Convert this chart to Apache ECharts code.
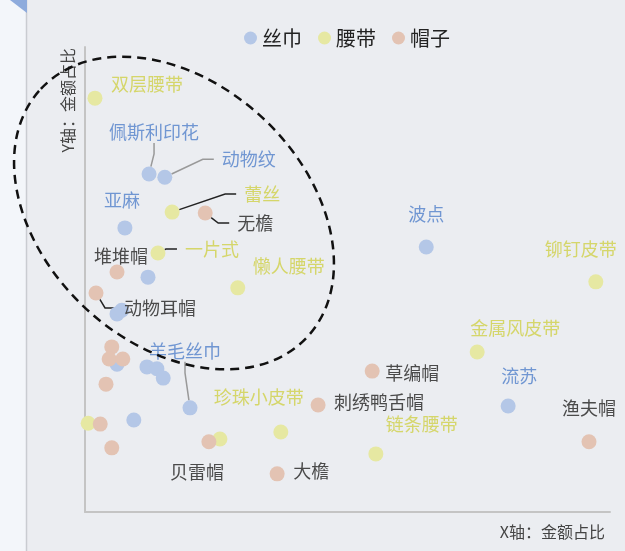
<!DOCTYPE html>
<html>
<head>
<meta charset="utf-8">
<script src="https://cdn.jsdelivr.net/npm/echarts@6/dist/echarts.min.js"></script>
<style>
  html, body { margin: 0; padding: 0; background: #ebedf1; }
  #chart { width: 625px; height: 551px; }
</style>
</head>
<body>
<div id="chart"></div>
<script>
// 丝巾
const scarfNames = ['佩斯利印花', '动物纹', '亚麻', '', '', '', '', '', '', '', '', '羊毛丝巾', '波点', '流苏'];
const scarfX = [12.2, 15.2, 7.6, 12.0, 6.1, 7.0, 6.1, 11.8, 13.7, 14.9, 9.3, 20.0, 65.0, 80.6];
const scarfY = [72.7, 72.0, 61.1, 50.5, 42.6, 43.4, 31.8, 31.2, 30.8, 28.8, 19.8, 22.4, 57.0, 22.8];

// 腰带
const beltNames = ['双层腰带', '蕾丝', '一片式', '懒人腰带', '金属风皮带', '铆钉皮带', '珍珠小皮带', '链条腰带', '', ''];
const beltX = [1.9, 16.6, 13.9, 29.1, 74.7, 97.3, 37.3, 55.4, 0.6, 25.7];
const beltY = [89.0, 64.5, 55.7, 48.2, 34.4, 49.5, 17.2, 12.5, 19.1, 15.7];

// 帽子
const hatNames = ['无檐', '堆堆帽', '动物耳帽', '草编帽', '刺绣鸭舌帽', '大檐', '渔夫帽', '贝雷帽', '', '', '', '', '', ''];
const hatX = [22.9, 6.1, 2.1, 54.7, 44.4, 36.6, 96.0, 23.6, 5.1, 4.6, 7.2, 4.0, 2.9, 5.1];
const hatY = [64.3, 51.6, 47.1, 30.3, 23.0, 8.2, 15.1, 15.1, 35.5, 32.9, 32.9, 27.5, 18.9, 13.8];

// label placement (shift of label centre from the point, px)
const labelOffsets = {
  '佩斯利印花': [5, -42], '动物纹': [84, -18], '亚麻': [-3, -28], '羊毛丝巾': [-5, -57],
  '波点': [0, -33], '流苏': [11, -30],
  '双层腰带': [52, -14], '蕾丝': [90, -18], '一片式': [54, -4], '懒人腰带': [51, -22],
  '金属风皮带': [38, -24], '铆钉皮带': [-15, -33], '珍珠小皮带': [-22, -35], '链条腰带': [46, -30],
  '无檐': [50, 10], '堆堆帽': [4, -16], '动物耳帽': [64, 15], '草编帽': [40, 2],
  '刺绣鸭舌帽': [61, -3], '大檐': [34, -3], '渔夫帽': [0, -34], '贝雷帽': [-12, 30]
};
const withLine = ['佩斯利印花', '动物纹', '羊毛丝巾', '蕾丝', '一片式', '无檐', '动物耳帽'];

const FONT = "'Noto Sans CJK SC', 'Noto Sans', sans-serif";

function buildData(names, xs, ys) {
  return xs.map((x, i) => {
    const name = names[i];
    const item = { name: name, value: [x, ys[i]] };
    if (name) {
      item.label = { show: true };
      if (withLine.indexOf(name) >= 0) item.labelLine = { show: true };
    } else {
      item.label = { show: false };
    }
    return item;
  });
}

function makeSeries(name, color, labelColor, lineColor, data) {
  return {
    name: name,
    type: 'scatter',
    symbolSize: 15,
    itemStyle: { color: color, opacity: 1 },
    label: {
      show: true,
      position: 'inside',
      formatter: '{b}',
      color: labelColor,
      fontSize: 18,
      fontFamily: FONT,
      backgroundColor: 'rgba(0,0,0,0)',
      padding: [2, 8]
    },
    labelLayout: function (p) {
      const off = labelOffsets[p.text] || [0, 0];
      return { dx: off[0], dy: off[1] };
    },
    labelLine: {
      show: false,
      length2: 11,
      lineStyle: { color: lineColor, width: 1.5 }
    },
    emphasis: { disabled: true },
    data: data
  };
}

const chart = echarts.init(document.getElementById('chart'));
chart.setOption({
  backgroundColor: '#ebedf1',
  animation: false,
  textStyle: { fontFamily: FONT },
  graphic: [
    { type: 'rect', shape: { x: 0, y: 0, width: 26, height: 551 }, style: { fill: '#f3f6fa' }, z: -10 },
    { type: 'line', shape: { x1: 26.5, y1: 0, x2: 26.5, y2: 551 }, style: { stroke: '#c9ccd1', lineWidth: 1.5 }, z: -9 },
    { type: 'polygon', shape: { points: [[10, 0], [27, 0], [27, 13]] }, style: { fill: '#8eabdc' }, z: -8 },
    {
      type: 'ellipse', x: 174, y: 213, rotation: -43 * Math.PI / 180,
      shape: { cx: 0, cy: 0, rx: 182, ry: 130 },
      style: { fill: 'none', stroke: '#111', lineWidth: 2.5, lineDash: [9, 6] },
      z: 100
    }
  ],
  legend: {
    left: 244,
    top: 28,
    padding: 0,
    icon: 'circle',
    itemWidth: 13,
    itemHeight: 13,
    itemGap: 16,
    textStyle: { fontSize: 20, color: '#222', fontFamily: FONT },
    data: ['丝巾', '腰带', '帽子']
  },
  grid: { left: 85, right: 15, top: 47, bottom: 39 },
  xAxis: {
    type: 'value', min: 0, max: 100,
    name: 'X轴：金额占比',
    nameLocation: 'end',
    nameGap: -5,
    nameTextStyle: { align: 'right', verticalAlign: 'top', padding: [12, 0, 0, 0], fontSize: 16, color: '#444' },
    axisLine: { lineStyle: { color: '#c4c4c4', width: 2 } },
    axisTick: { show: false }, axisLabel: { show: false }, splitLine: { show: false }
  },
  yAxis: {
    type: 'value', min: 0, max: 100,
    name: 'Y轴：金额占比',
    nameLocation: 'end',
    nameRotate: 90,
    nameGap: -1,
    nameTextStyle: { align: 'right', verticalAlign: 'bottom', padding: [0, 0, 9, 0], fontSize: 16, color: '#444' },
    axisLine: { lineStyle: { color: '#c4c4c4', width: 2 } },
    axisTick: { show: false }, axisLabel: { show: false }, splitLine: { show: false }
  },
  series: [
    makeSeries('丝巾', '#b4c7e7', '#7096d2', '#999999', buildData(scarfNames, scarfX, scarfY)),
    makeSeries('腰带', '#e6e8a2', '#d5d66a', '#222222', buildData(beltNames, beltX, beltY)),
    makeSeries('帽子', '#e3c3b3', '#4a4a4a', '#222222', buildData(hatNames, hatX, hatY))
  ]
});
</script>
</body>
</html>
